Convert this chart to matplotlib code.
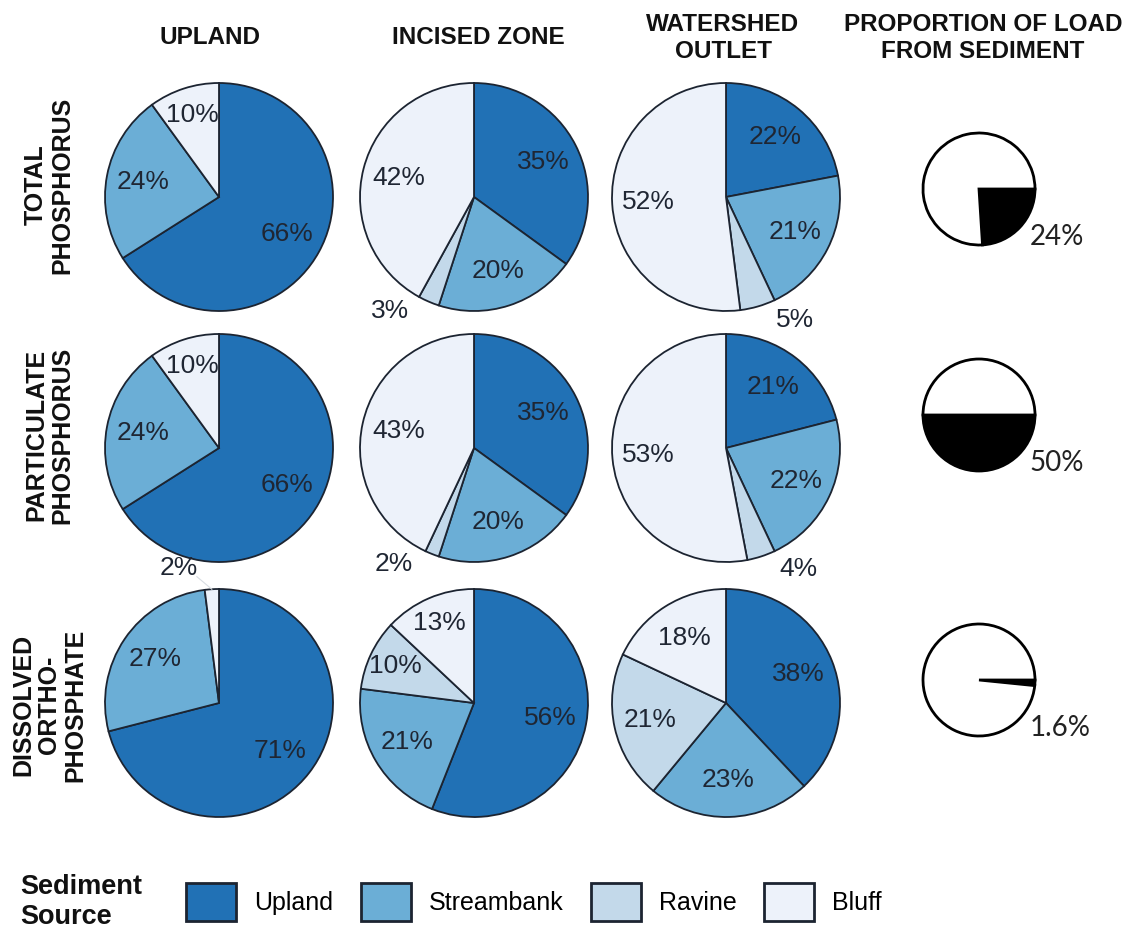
import numpy as np
import matplotlib
matplotlib.use("Agg")
import matplotlib.pyplot as plt
from matplotlib.patches import Patch

W, H = 1142, 935

sources = ["Upland", "Streambank", "Ravine", "Bluff"]
source_colors = ["#2171b5", "#6baed6", "#c3d9ea", "#edf2fa"]

locations = ["UPLAND", "INCISED ZONE", "WATERSHED\nOUTLET"]
constituents = ["TOTAL\nPHOSPHORUS", "PARTICULATE\nPHOSPHORUS",
                "DISSOLVED\nORTHO-\nPHOSPHATE"]

# Share (%) of each load by sediment source: Upland, Streambank, Ravine, Bluff
total_p = [[66, 24, 0, 10], [35, 20, 3, 42], [22, 21, 5, 52]]
particulate_p = [[66, 24, 0, 10], [35, 20, 2, 43], [21, 22, 4, 53]]
dissolved_op = [[71, 27, 0, 2], [56, 21, 10, 13], [38, 23, 21, 18]]
shares = [total_p, particulate_p, dissolved_op]

# Proportion (%) of each load carried by sediment
sediment_fraction = [24, 50, 1.6]
sediment_labels = ["24%", "50%", "1.6%"]

# layout (pixel units, y measured from top)
col_x = [219, 474, 726]
row_y = [197, 448, 703]
R = 114
frac_x = 979
frac_y = [189, 415, 680]
r_small = 56
edge = "#1c2431"
label_color = "#1f2633"
sans = ["Liberation Sans", "DejaVu Sans"]

fig = plt.figure(figsize=(W / 100, H / 100), dpi=100)
ax = fig.add_axes([0, 0, 1, 1])

for i, row in enumerate(shares):
    for j, vals in enumerate(row):
        cx, cy = col_x[j], H - row_y[i]
        keep = [k for k, v in enumerate(vals) if v > 0]
        v = [vals[k] for k in keep]
        ax.pie(v, colors=[source_colors[k] for k in keep], startangle=90,
               counterclock=False, center=(cx, cy), radius=R,
               wedgeprops=dict(edgecolor=edge, linewidth=1.3), frame=True)
        total = float(sum(v))
        cum = 0.0
        for val in v:
            mid = 90 - 360 * (cum + val / 2) / total
            cum += val
            a = np.deg2rad(mid)
            if val < 6:
                # small wedges are labelled outside the pie
                shift = -13 * np.sign(np.cos(a)) * np.sign(np.sin(a))
                b = np.deg2rad(mid + shift)
                d = 1.24
                tx, ty = cx + d * R * np.cos(b), cy + d * R * np.sin(b)
                if np.sin(a) > 0:
                    ax.plot([tx + 0.16 * R, cx + 1.0 * R * np.cos(a)],
                            [ty - 0.08 * R, cy + 1.0 * R * np.sin(a)],
                            color="#d8dde3", lw=0.8)
            else:
                d = 0.68 if val >= 15 else 0.76
                tx, ty = cx + d * R * np.cos(a), cy + d * R * np.sin(a)
            ax.text(tx, ty, f"{val:g}%", ha="center", va="center",
                    fontsize=19, color=label_color, family=sans)

# proportion of load from sediment
for i, p in enumerate(sediment_fraction):
    cx, cy = frac_x, H - frac_y[i]
    ax.pie([p, 100 - p], colors=["black", "white"], startangle=0,
           counterclock=False, center=(cx, cy), radius=r_small,
           wedgeprops=dict(edgecolor="black", linewidth=2), frame=True)
    ax.text(cx + 0.9 * r_small, cy - 0.86 * r_small, sediment_labels[i],
            ha="left", va="center", fontsize=20, color="#222222",
            family=["Lato", "DejaVu Sans"])

# column headers
header_x = [210, 478, 723]
for x, t in zip(header_x, locations):
    ax.text(x, H - 38, t, ha="center", va="center", multialignment="center",
            fontsize=17.5, fontweight="bold", family=sans, linespacing=1.25,
            color="#111111")
ax.text(983, H - 38, "PROPORTION OF LOAD\nFROM SEDIMENT", ha="center",
        va="center", multialignment="center", fontsize=17.5, fontweight="bold",
        family=sans, linespacing=1.25, color="#111111")

# row headers
row_label_y = [185, 435, 705]
for y, t in zip(row_label_y, constituents):
    ax.text(49, H - y, t, rotation=90, ha="center", va="center",
            multialignment="center", fontsize=18, fontweight="bold",
            family=sans, linespacing=1.1, color="#111111")

# legend
ax.text(20, H - 902, "Sediment\nSource", ha="left", va="center",
        fontsize=19.5, fontweight="bold", family=sans, linespacing=1.2,
        color="#111111")
handles = [Patch(facecolor=c, edgecolor=edge, linewidth=2, label=s)
           for s, c in zip(sources, source_colors)]
ax.legend(handles=handles, ncol=4, loc="center left",
          bbox_to_anchor=(186 / W, (H - 902) / H),
          bbox_transform=fig.transFigure, frameon=False,
          prop={"family": sans, "size": 18},
          handlelength=2.0, handleheight=2.0, handletextpad=0.72,
          columnspacing=1.1, borderpad=0, borderaxespad=0)

ax.set_xlim(0, W)
ax.set_ylim(0, H)
ax.set_aspect("equal")
ax.axis("off")

fig.savefig("out.png", dpi=100, facecolor="white")
